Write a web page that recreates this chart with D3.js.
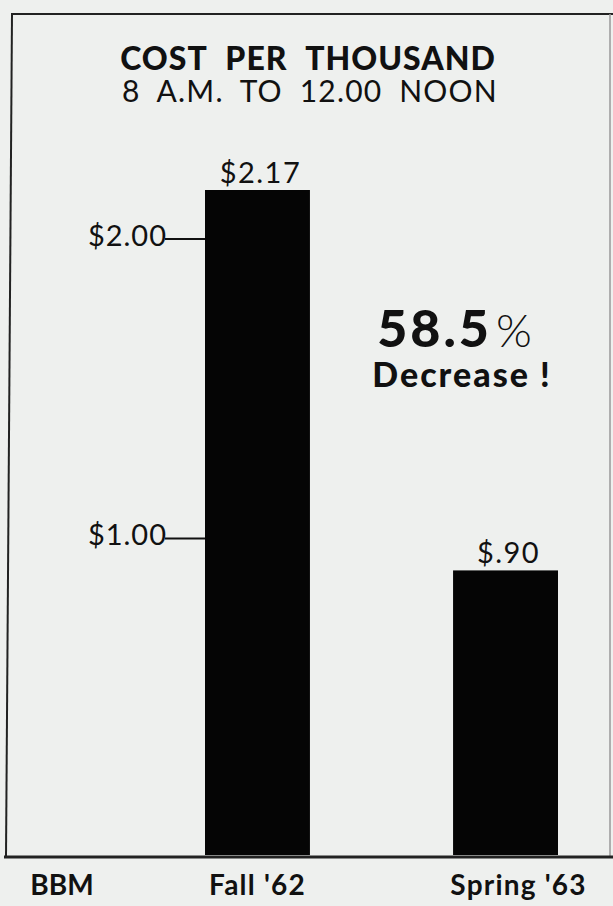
<!DOCTYPE html>
<html>
<head>
<meta charset="utf-8">
<script src="https://cdn.jsdelivr.net/npm/d3@7"></script>
<style>
  body { margin: 0; background: #eef0ee; }
  text { font-family: Lato, "Open Sans", sans-serif; fill: #111; }
</style>
</head>
<body>
<div id="chart"></div>
<script>
const periods = ["Fall '62", "Spring '63"];
const costs = [2.17, 0.90];
const cost_labels = ["$2.17", "$.90"];
const tick_values = [1.00, 2.00];
const tick_labels = ["$1.00", "$2.00"];
const source_label = "BBM";

const width = 613;
const height = 906;
const baseY = 855;

const svg = d3.select('#chart')
    .append('svg')
    .attr("width", width)
    .attr("height", height);

svg.append("rect")
    .attr("width", width).attr("height", height)
    .attr("fill", "#eef0ee");

// frame (the scan is slightly skewed)
const frame = svg.append("g").attr("stroke", "#222").attr("fill", "none");
frame.append("line").attr("x1", 11).attr("x2", 613).attr("y1", 14).attr("y2", 14).attr("stroke-width", 2);
frame.append("line").attr("x1", 12).attr("x2", 6).attr("y1", 14).attr("y2", 857).attr("stroke-width", 2);
frame.append("line").attr("x1", 610).attr("x2", 610).attr("y1", 14).attr("y2", 857).attr("stroke-width", 1.5).attr("stroke", "#999");
frame.append("line").attr("x1", 4).attr("x2", 613).attr("y1", 857).attr("y2", 857).attr("stroke-width", 3);

var x = d3.scaleBand()
    .domain(periods)
    .range([205, 558])
    .paddingInner(0.577)
    .paddingOuter(0);

// value scale fitted to the printed ticks; bars run down to the frame
var y = d3.scaleLinear()
    .domain([0, 2.17])
    .range([840, 190]);

svg.selectAll(".bar")
    .data(periods)
    .enter()
    .append("rect")
    .attr("class", "bar")
    .attr("x", d => x(d))
    .attr("width", x.bandwidth())
    .attr("y", (d, i) => y(costs[i]))
    .attr("height", (d, i) => baseY - y(costs[i]))
    .attr("fill", "#050505");

svg.selectAll(".val")
    .data(periods)
    .enter()
    .append("text")
    .attr("class", "val")
    .attr("x", d => x(d) + x.bandwidth() / 2 + 3)
    .attr("y", (d, i) => y(costs[i]) - 7)
    .attr("text-anchor", "middle")
    .attr("font-size", 29)
    .attr("letter-spacing", 1.5)
    .text((d, i) => cost_labels[i]);

// left tick labels with dashes into the first bar
const barLeft = x(periods[0]);
const ticks = svg.append("g");
ticks.selectAll("line")
    .data(tick_values)
    .enter()
    .append("line")
    .attr("x1", barLeft - 40)
    .attr("x2", barLeft)
    .attr("y1", d => y(d) - 2)
    .attr("y2", d => y(d) - 2)
    .attr("stroke", "#111")
    .attr("stroke-width", 2);
ticks.selectAll("text")
    .data(tick_values)
    .enter()
    .append("text")
    .attr("x", barLeft - 38)
    .attr("y", d => y(d) + 5)
    .attr("text-anchor", "end")
    .attr("font-size", 29)
    .attr("letter-spacing", 1)
    .text((d, i) => tick_labels[i]);

// category labels below the frame
svg.selectAll(".cat")
    .data(periods)
    .enter()
    .append("text")
    .attr("class", "cat")
    .attr("x", (d, i) => x(d) + x.bandwidth() / 2 + (i === 1 ? 13 : 0))
    .attr("y", 895)
    .attr("text-anchor", "middle")
    .attr("font-size", 28)
    .attr("font-weight", 700)
    .attr("letter-spacing", 1.2)
    .text(d => d);

svg.append("text")
    .attr("x", 62).attr("y", 895)
    .attr("text-anchor", "middle")
    .attr("font-size", 28)
    .attr("font-weight", 700)
    .text(source_label);

// titles
svg.append("text")
    .attr("x", 308).attr("y", 70)
    .attr("text-anchor", "middle")
    .attr("font-size", 32)
    .attr("font-weight", 900)
    .attr("letter-spacing", 1)
    .attr("word-spacing", 10)
    .text("COST PER THOUSAND");

svg.append("text")
    .attr("x", 310).attr("y", 102)
    .attr("text-anchor", "middle")
    .attr("font-size", 30)
    .attr("letter-spacing", 1.2)
    .attr("word-spacing", 8)
    .text("8 A.M. TO 12.00 NOON");

// annotation
const note = svg.append("text")
    .attr("x", 456).attr("y", 347)
    .attr("text-anchor", "middle")
    .attr("font-size", 52)
    .attr("font-weight", 900)
    .attr("letter-spacing", 3);
note.append("tspan").text("58.5");
note.append("tspan").attr("font-weight", 300).attr("font-size", 46).attr("dx", 4).text("%");

svg.append("text")
    .attr("x", 462).attr("y", 387)
    .attr("text-anchor", "middle")
    .attr("font-size", 34)
    .attr("font-weight", 900)
    .attr("letter-spacing", 2)
    .text("Decrease !");
</script>
</body>
</html>
